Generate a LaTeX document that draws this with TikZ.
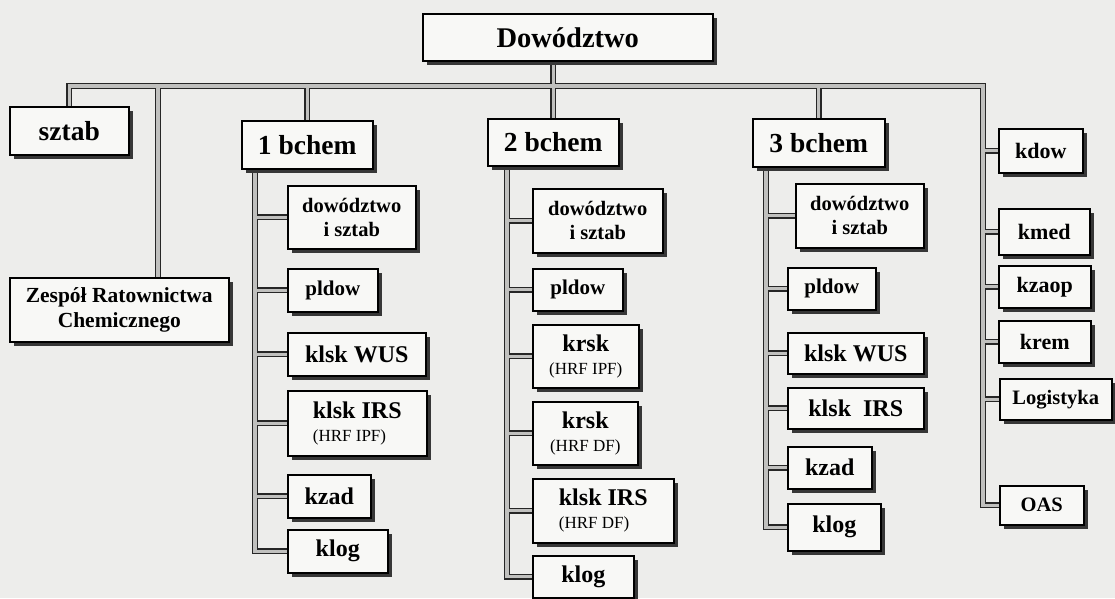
\documentclass[tikz,border=0pt]{standalone}
\usepackage{fontspec}
\setmainfont{Liberation Serif}
\usetikzlibrary{shadows, backgrounds}
\definecolor{paper}{RGB}{237,237,235}
\definecolor{boxfill}{RGB}{248,248,246}
\definecolor{hatch}{RGB}{192,192,190}
\definecolor{shade}{RGB}{55,55,55}
\newcommand\hrf[1]{{\mdseries\fontsize{17}{20}\selectfont #1}}

\begin{document}
\begin{tikzpicture}[
  x=1pt, y=-1pt,
  box/.style={rectangle, draw, line width=1.5pt, fill=boxfill, anchor=north west, align=center, inner sep=1pt, font=\bfseries, drop shadow={shadow xshift=4.5pt, shadow yshift=-4.5pt, fill=shade, opacity=1}},
  topbox/.style={box, font=\fontsize{28.5}{32}\selectfont\bfseries},
  head/.style={box, font=\fontsize{27.5}{30}\selectfont\bfseries},
  unit/.style={box, font=\fontsize{24}{23}\selectfont\bfseries},
  small/.style={box, font=\fontsize{21}{24}\selectfont\bfseries},
  twoline/.style={box, font=\fontsize{20.5}{24}\selectfont\bfseries},
  side/.style={box, font=\fontsize{22}{26}\selectfont\bfseries},
  link/.style={draw=hatch, line width=3.2pt, preaction={draw=black!85, line width=5.8pt}},
]
\useasboundingbox (0,0) rectangle (1115,598);

\node[topbox, minimum width=290pt, minimum height=47pt] (dow) at (422,13) {Dowództwo};
\node[head, minimum width=119pt, minimum height=48pt] (sztab) at (9,106) {sztab};
\node[twoline, minimum width=219pt, minimum height=64pt, font=\fontsize{21.5}{25}\selectfont\bfseries] (zrch) at (9,277) {Zespół Ratownictwa\\Chemicznego};
\node[head, minimum width=131pt, minimum height=48pt] (b1) at (241,120) {1 bchem};
\node[head, minimum width=131pt, minimum height=47pt] (b2) at (487,118) {2 bchem};
\node[head, minimum width=132pt, minimum height=48pt] (b3) at (752,118) {3 bchem};

\node[twoline, minimum width=128pt, minimum height=63pt] (d1) at (287,185) {dowództwo\\i sztab};
\node[small, minimum width=90pt, minimum height=43pt] (p1) at (287,268) {pldow};
\node[unit, minimum width=138pt, minimum height=43pt] (w1) at (287,332) {klsk WUS};
\node[unit, minimum width=139pt, minimum height=65pt, align=left] (i1) at (287,390) {klsk IRS\\\hrf{(HRF IPF)}};
\node[unit, minimum width=83pt, minimum height=43pt] (z1) at (287,474) {kzad};
\node[unit, minimum width=100pt, minimum height=43pt] (l1) at (287,529) {klog};

\node[twoline, minimum width=130pt, minimum height=64pt] (d2) at (532,188) {dowództwo\\i sztab};
\node[small, minimum width=90pt, minimum height=42pt] (p2) at (532,268) {pldow};
\node[unit, minimum width=106pt, minimum height=63pt] (r2a) at (532,324) {krsk\\\hrf{(HRF IPF)}};
\node[unit, minimum width=105pt, minimum height=63pt] (r2b) at (532,401) {krsk\\\hrf{(HRF DF)}};
\node[unit, minimum width=141pt, minimum height=64pt, align=left] (i2) at (532,478) {klsk IRS\\\hrf{(HRF DF)}};
\node[unit, minimum width=101pt, minimum height=42pt] (l2) at (532,555) {klog};

\node[twoline, minimum width=128pt, minimum height=64pt] (d3) at (795,183) {dowództwo\\i sztab};
\node[small, minimum width=88pt, minimum height=42pt] (p3) at (787,267) {pldow};
\node[unit, minimum width=136pt, minimum height=41pt] (w3) at (787,332) {klsk WUS};
\node[unit, minimum width=136pt, minimum height=41pt] (i3) at (787,387) {klsk\ \ IRS};
\node[unit, minimum width=84pt, minimum height=42pt] (z3) at (787,446) {kzad};
\node[unit, minimum width=93pt, minimum height=47pt] (l3) at (787,503) {klog};

\node[side, minimum width=84pt, minimum height=44pt] (kdow) at (998,128) {kdow};
\node[side, minimum width=91pt, minimum height=46pt] (kmed) at (998,208) {kmed};
\node[side, minimum width=92pt, minimum height=42pt] (kzaop) at (998,265) {kzaop};
\node[side, minimum width=92pt, minimum height=42pt] (krem) at (998,320) {krem};
\node[side, minimum width=112pt, minimum height=41pt, font=\fontsize{20.5}{24}\selectfont\bfseries] (logi) at (999,378) {Logistyka};
\node[side, minimum width=84pt, minimum height=39pt, font=\fontsize{20.5}{24}\selectfont\bfseries] (oas) at (999,485) {OAS};

\begin{scope}[on background layer]
\fill[paper] (0,0) rectangle (1115,598);
\coordinate (rtop) at (983,86); \coordinate (zx) at (158,86);
\coordinate (s1) at (255,0); \coordinate (s2) at (507,0); \coordinate (s3) at (766,0);
\draw[link]
  (sztab.north) |- (rtop) |- (oas.west)
  (zx) -- (zx |- zrch.north)
  (b1.north) -- (b1.north |- rtop) (b3.north) -- (b3.north |- rtop)
  (b2.north) -- (b2.north |- dow.south)
  (s1 |- b1.south) |- (l1.west)
  (s1 |- d1.west) -- (d1.west) (s1 |- p1.west) -- (p1.west)
  (s1 |- w1.west) -- (w1.west) (s1 |- i1.west) -- (i1.west)
  (s1 |- z1.west) -- (z1.west)
  (s2 |- b2.south) |- (l2.west)
  (s2 |- d2.west) -- (d2.west) (s2 |- p2.west) -- (p2.west)
  (s2 |- r2a.west) -- (r2a.west) (s2 |- r2b.west) -- (r2b.west)
  (s2 |- i2.west) -- (i2.west)
  (s3 |- b3.south) |- (l3.west)
  (s3 |- d3.west) -- (d3.west) (s3 |- p3.west) -- (p3.west)
  (s3 |- w3.west) -- (w3.west) (s3 |- i3.west) -- (i3.west)
  (s3 |- z3.west) -- (z3.west)
  (rtop |- kdow.west) -- (kdow.west) (rtop |- kmed.west) -- (kmed.west)
  (rtop |- kzaop.west) -- (kzaop.west) (rtop |- krem.west) -- (krem.west)
  (rtop |- logi.west) -- (logi.west);
\end{scope}
\end{tikzpicture}
\end{document}
